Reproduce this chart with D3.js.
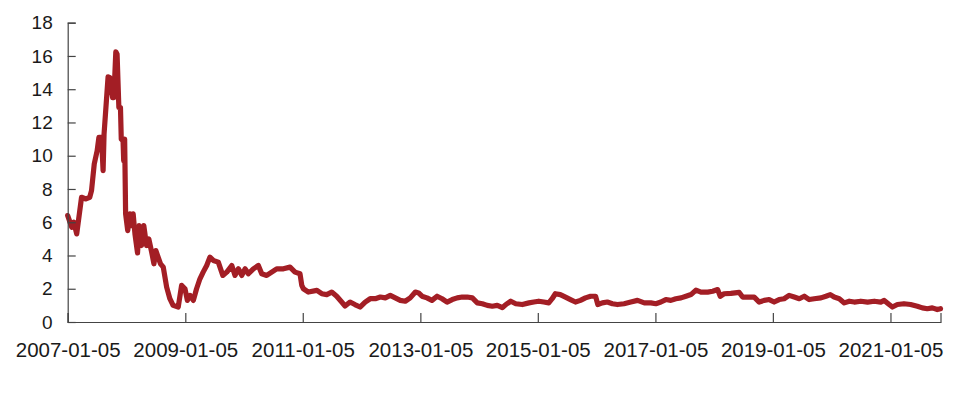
<!DOCTYPE html>
<html>
<head>
<meta charset="utf-8">
<script src="https://cdn.jsdelivr.net/npm/d3@7"></script>
<style>
  html, body { margin: 0; padding: 0; background: #fff; }
  svg { display: block; }
  text { font-family: "Liberation Sans", Arial, sans-serif; fill: #1a1a1a; }
</style>
</head>
<body>
<svg id="chart" width="964" height="394"></svg>
<script>
const dates = [
"2007-01-05","2007-01-30","2007-02-12","2007-03-02","2007-04-01","2007-04-28","2007-05-22","2007-06-02","2007-06-19","2007-07-07",
"2007-07-18","2007-08-03","2007-08-13","2007-08-19","2007-09-13","2007-09-24","2007-10-11","2007-10-19","2007-10-31","2007-11-08",
"2007-11-19","2007-11-29","2007-12-04","2007-12-15","2007-12-19","2007-12-25","2007-12-31","2008-01-13","2008-01-27","2008-02-06",
"2008-02-16","2008-02-27","2008-03-14","2008-03-24","2008-04-08","2008-04-22","2008-05-09","2008-05-23","2008-06-10","2008-06-24",
"2008-07-06","2008-07-20","2008-08-04","2008-08-21","2008-09-11","2008-10-01","2008-10-21","2008-11-22","2008-12-13","2009-01-03",
"2009-01-18","2009-02-03","2009-02-24","2009-03-16","2009-04-06","2009-04-26","2009-05-18","2009-06-07","2009-06-28","2009-07-29",
"2009-08-26","2009-09-20","2009-10-21","2009-11-10","2009-12-01","2009-12-22","2010-01-12","2010-02-01","2010-03-04","2010-04-04",
"2010-04-25","2010-05-26","2010-06-26","2010-07-27","2010-09-07","2010-10-18","2010-11-18","2010-12-19","2010-12-30","2011-01-09",
"2011-02-09","2011-04-03","2011-05-03","2011-06-03","2011-07-04","2011-08-04","2011-09-04","2011-09-25","2011-10-26","2011-11-25",
"2011-12-27","2012-01-28","2012-02-28","2012-03-31","2012-05-01","2012-06-01","2012-07-02","2012-08-02","2012-09-02","2012-10-03",
"2012-11-03","2012-12-05","2012-12-25","2013-01-15","2013-02-15","2013-03-18","2013-04-19","2013-05-20","2013-06-20","2013-07-22",
"2013-08-22","2013-09-22","2013-10-23","2013-11-24","2013-12-25","2014-01-25","2014-02-25","2014-03-28","2014-04-28","2014-05-30",
"2014-06-20","2014-07-21","2014-08-21","2014-10-01","2014-11-11","2014-12-11","2015-01-11","2015-02-11","2015-03-14","2015-04-04",
"2015-04-24","2015-05-25","2015-06-26","2015-07-27","2015-08-27","2015-09-27","2015-10-28","2015-11-29","2015-12-30","2016-01-13",
"2016-02-10","2016-03-12","2016-04-13","2016-05-14","2016-06-24","2016-08-05","2016-09-16","2016-10-28","2016-12-08","2017-01-08",
"2017-02-08","2017-03-11","2017-04-11","2017-05-12","2017-06-13","2017-07-14","2017-08-14","2017-09-14","2017-10-15","2017-11-26",
"2017-12-27","2018-01-27","2018-02-12","2018-03-08","2018-04-19","2018-06-10","2018-07-01","2018-08-01","2018-09-11","2018-10-12",
"2018-11-12","2018-12-13","2019-01-13","2019-02-13","2019-03-16","2019-04-16","2019-05-18","2019-06-18","2019-07-19","2019-08-19",
"2019-09-19","2019-10-31","2019-12-01","2019-12-28","2020-01-21","2020-02-22","2020-03-24","2020-04-24","2020-05-25","2020-07-05",
"2020-08-16","2020-09-26","2020-11-06","2020-11-27","2020-12-28","2021-01-17","2021-02-17","2021-03-30","2021-05-10","2021-06-21",
"2021-07-22","2021-08-22","2021-09-22","2021-10-23","2021-11-12"
];
const values = [
6.4,5.7,6.0,5.3,7.5,7.4,7.5,7.9,9.5,10.3,
11.1,11.1,9.1,11.3,14.75,14.7,13.5,13.5,16.25,16.1,
12.9,12.9,11.0,10.9,9.7,11.0,6.5,5.5,6.5,5.8,
6.5,5.3,4.15,5.8,4.6,5.8,4.6,5.0,4.2,3.5,
4.3,3.9,3.5,3.3,2.1,1.4,1.0,0.9,2.2,2.0,
1.3,1.6,1.3,2.0,2.6,3.0,3.4,3.9,3.7,3.6,
2.8,3.0,3.4,2.8,3.2,2.8,3.2,2.9,3.2,3.4,
2.9,2.8,3.0,3.2,3.2,3.3,3.0,2.9,2.2,2.0,
1.8,1.9,1.7,1.65,1.8,1.55,1.2,0.96,1.2,1.05,
0.9,1.2,1.4,1.4,1.5,1.45,1.6,1.45,1.3,1.25,
1.45,1.8,1.75,1.55,1.45,1.3,1.55,1.4,1.2,1.35,
1.45,1.5,1.5,1.45,1.15,1.1,1.0,0.95,1.0,0.86,
1.05,1.25,1.1,1.05,1.15,1.2,1.25,1.2,1.15,1.4,
1.7,1.65,1.5,1.35,1.2,1.3,1.45,1.55,1.55,1.05,
1.15,1.2,1.1,1.05,1.1,1.2,1.3,1.15,1.15,1.1,
1.2,1.35,1.3,1.4,1.45,1.55,1.65,1.92,1.8,1.8,
1.85,1.95,1.55,1.7,1.72,1.78,1.5,1.5,1.5,1.2,
1.3,1.35,1.2,1.35,1.4,1.6,1.5,1.4,1.55,1.35,
1.4,1.45,1.55,1.65,1.5,1.4,1.15,1.25,1.2,1.25,
1.2,1.25,1.2,1.3,1.05,0.9,1.05,1.1,1.05,0.95,
0.85,0.8,0.85,0.75,0.8
];
const xTickLabels = ["2007-01-05","2009-01-05","2011-01-05","2013-01-05","2015-01-05","2017-01-05","2019-01-05","2021-01-05"];
const yTicks = [0,2,4,6,8,10,12,14,16,18];

const parse = d3.timeParse("%Y-%m-%d");
const data = dates.map((d, i) => ({ date: parse(d), value: values[i] }));

const svg = d3.select("#chart");
const plotLeft = 67.7, plotRight = 940.5, plotTop = 22.7, plotBottom = 322;

const x = d3.scaleTime()
  .domain([parse(dates[0]), parse(dates[dates.length - 1])])
  .range([plotLeft, plotRight]);
const y = d3.scaleLinear().domain([0, 18]).range([plotBottom, plotTop]);

// line
const line = d3.line().x(d => x(d.date)).y(d => y(d.value));
svg.append("path")
  .datum(data)
  .attr("fill", "none")
  .attr("stroke", "#A31E25")
  .attr("stroke-width", 5.2)
  .attr("stroke-linejoin", "round")
  .attr("stroke-linecap", "round")
  .attr("d", line);

// y axis
const yAxis = d3.axisLeft(y).tickValues(yTicks).tickSize(-8).tickPadding(15);
const gy = svg.append("g").attr("transform", `translate(${plotLeft},0)`).call(yAxis);
gy.select(".domain").attr("stroke", "#444").attr("stroke-width", 1.2);
gy.selectAll(".tick line").attr("stroke", "#444").attr("stroke-width", 1.2);
gy.selectAll(".tick text").attr("font-size", "19px").attr("fill", "#1a1a1a")
  .style("font-family", '"Liberation Sans", Arial, sans-serif');

// x axis
const xAxis = d3.axisBottom(x).tickValues(xTickLabels.map(parse))
  .tickFormat(d3.timeFormat("%Y-%m-%d")).tickSize(-9).tickPadding(20);
const gx = svg.append("g").attr("transform", `translate(0,${plotBottom})`).call(xAxis);
gx.select(".domain").attr("stroke", "#444").attr("stroke-width", 1.2);
gx.selectAll(".tick line").attr("stroke", "#444").attr("stroke-width", 1.2);
gx.selectAll(".tick text").attr("font-size", "20.5px").attr("fill", "#1a1a1a")
  .style("font-family", '"Liberation Sans", Arial, sans-serif');
</script>
</body>
</html>
